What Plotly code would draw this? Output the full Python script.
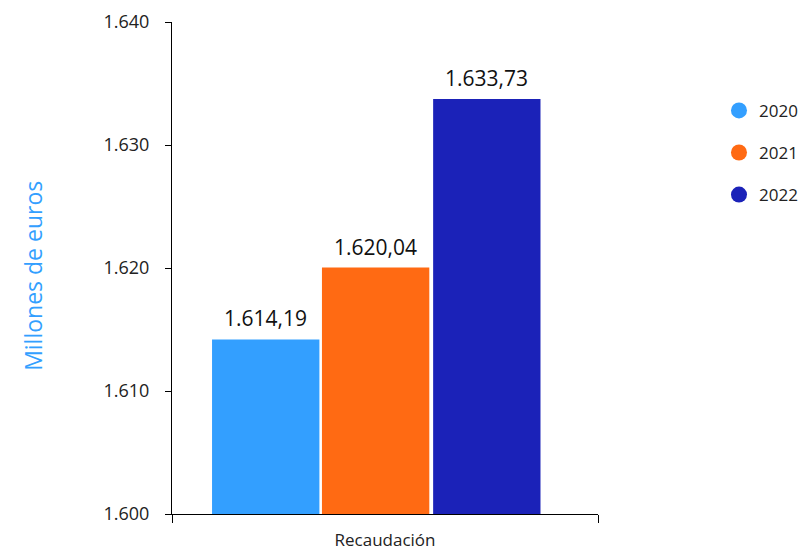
import plotly.graph_objects as go

categories = ["Recaudación"]
years = ["2020", "2021", "2022"]
values = [1614.19, 1620.04, 1633.73]
colors = ["#339FFF", "#FF6A13", "#1B22B8"]
y_ticks = [1600, 1610, 1620, 1630, 1640]
y_title = "Millones de euros"

bar_width = 0.252
bar_offsets = [-0.406, -0.148, 0.113]

fig = go.Figure()
for yr, v, c, off in zip(years, values, colors, bar_offsets):
    fig.add_trace(go.Bar(
        x=categories, y=[v], name=yr, marker=dict(color=c, line=dict(width=0)),
        width=bar_width, offset=off, showlegend=False,
    ))
    fig.add_annotation(
        x=off + bar_width / 2, y=v,
        text=f"{v:,.2f}".replace(",", "X").replace(".", ",").replace("X", "."),
        showarrow=False, yanchor="bottom", yshift=5,
        font=dict(size=21, color="#111111", family="Open Sans"),
    )
for yr, c in zip(years, colors):
    fig.add_trace(go.Scatter(
        x=[None], y=[None], mode="markers", name=yr, legendgroup=yr,
        marker=dict(color=c, size=18, symbol="circle"),
    ))

fig.add_annotation(
    xref="paper", yref="paper", x=-139 / 426, y=0.484, text=y_title,
    textangle=-90, showarrow=False, xanchor="center", yanchor="middle",
    font=dict(color="#339FFF", size=23, family="Open Sans"),
)

fig.update_layout(
    width=801, height=550,
    margin=dict(l=172, r=203, t=22, b=36, autoexpand=False),
    plot_bgcolor="white", paper_bgcolor="white",
    separators=",.",
    font=dict(family="Open Sans", size=17, color="#222222"),
    legend=dict(x=1.284, y=0.856, xanchor="left", yanchor="top",
                font=dict(size=17, family="Open Sans"), tracegroupgap=17,
                itemwidth=30),
    yaxis=dict(range=[1600, 1640], tickvals=y_ticks, tickformat=",d",
               showgrid=False, zeroline=False, showline=True, linecolor="black",
               linewidth=1, ticks="outside", ticklen=6, tickcolor="black",
               ticklabelstandoff=12,
               tickfont=dict(size=18, family="Open Sans")),
    xaxis=dict(showgrid=False, showline=True, linecolor="black", linewidth=1,
               ticks="outside", ticklen=8, tickcolor="black", tickson="boundaries",
               ticklabelstandoff=11, range=[-0.5, 0.5],
               tickfont=dict(size=17)),
)
fig.write_html("out.html")
